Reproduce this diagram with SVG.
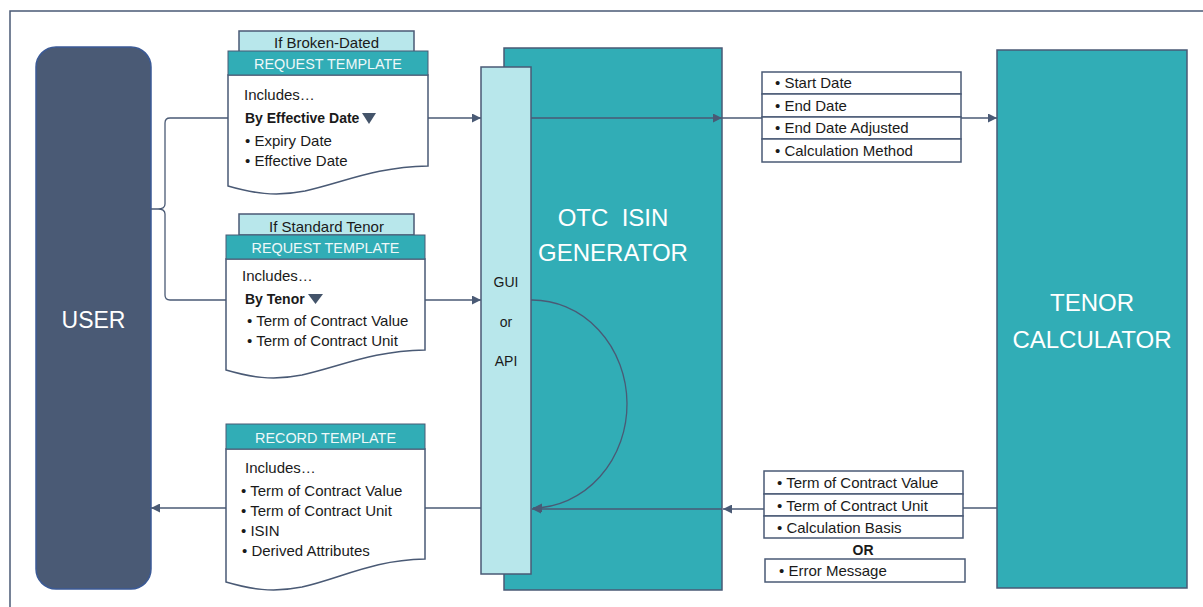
<svg xmlns="http://www.w3.org/2000/svg" width="1203" height="607" viewBox="0 0 1203 607">
<defs>
<marker id="arr" viewBox="0 0 10 10" refX="10" refY="5" markerWidth="11" markerHeight="9" markerUnits="userSpaceOnUse" orient="auto"><path d="M0,0 L10,5 L0,10 z" fill="#4a5a75"/></marker>
<style>
text{font-family:"Liberation Sans",Arial,sans-serif;fill:#1a1a1a;white-space:pre}
.t15{font-size:15px}
.b{font-weight:bold;font-size:14px}
.hdr{font-size:14.4px;fill:#eef8f9;text-anchor:middle}
.tab{fill:#b8e7eb;stroke:#4a5a75;stroke-width:1.5}
.head{fill:#31adb6;stroke:#4a5a75;stroke-width:1}
.doc{fill:#fff;stroke:#4a5a75;stroke-width:1.5}
.box{fill:#fff;stroke:#4a5a75;stroke-width:1.5}
.big{font-size:24px;fill:#fff;text-anchor:middle}
.line{fill:none;stroke:#4a5a75;stroke-width:1.3}
.tri{fill:#44546a}
</style>
</defs>
<rect x="10" y="11" width="1300" height="700" fill="none" stroke="#4a5a75" stroke-width="1.5"/>

<g id="user">
<rect x="36" y="47" width="115" height="542" rx="20" ry="20" fill="#4a5a75" stroke="#3b5a96" stroke-width="1.5"/>
<text x="93.5" y="328" class="big" style="font-size:23px">USER</text>
</g>

<g id="otc">
<rect x="504" y="48" width="218" height="542" fill="#31adb6" stroke="#4a5a75" stroke-width="1.5"/>
<text x="613" y="226" class="big">OTC  ISIN</text>
<text x="613" y="261" class="big">GENERATOR</text>
</g>

<g id="gui">
<rect x="481" y="67" width="50" height="507" fill="#b8e7eb" stroke="#4a5a75" stroke-width="1.5"/>
<text x="506" y="287" style="font-size:14px" text-anchor="middle">GUI</text>
<text x="506" y="327" style="font-size:14px" text-anchor="middle">or</text>
<text x="506" y="366" style="font-size:14px" text-anchor="middle">API</text>
</g>

<g id="tenor">
<rect x="997" y="50" width="190" height="538" fill="#31adb6" stroke="#4a5a75" stroke-width="1.5"/>
<text x="1092" y="311" class="big">TENOR</text>
<text x="1092" y="348" class="big">CALCULATOR</text>
</g>

<g id="connectors">
<path class="line" d="M228,118 H170 Q165,118 165,123 V204 Q165,209 158,209 H151 M158,209 Q165,209 165,214 V295 Q165,300 170,300 H226"/>
<path class="line" d="M428,118 H481" marker-end="url(#arr)"/>
<path class="line" d="M425,300 H481" marker-end="url(#arr)"/>
<path class="line" d="M531,118 H722" marker-end="url(#arr)"/>
<path class="line" d="M722,118 H997" marker-end="url(#arr)"/>
<path class="line" d="M997,508 H963"/>
<path class="line" d="M764,509 H723" marker-end="url(#arr)"/>
<path class="line" d="M722,509 H532" marker-end="url(#arr)"/>
<path class="line" d="M531,300 A95,104 0 0 1 533,508" marker-end="url(#arr)"/>
<path class="line" d="M481,508 H425"/>
<path class="line" d="M226,508 H151" marker-end="url(#arr)"/>
</g>

<g id="template-broken">
<rect class="tab" x="239" y="31" width="175" height="22"/>
<text x="326.5" y="48" class="t15" text-anchor="middle">If Broken-Dated</text>
<path class="doc" d="M228,75 H428 V166 C375,167 345,182 305,191 C275,197 252,193 228,186 Z"/>
<rect class="head" x="228" y="51" width="200" height="24"/>
<text x="328" y="69" class="hdr">REQUEST TEMPLATE</text>
<text x="244" y="100" class="t15">Includes…</text>
<text x="245" y="123" class="b">By Effective Date</text>
<polygon class="tri" points="362,113 376,113 369,124"/>
<text x="245" y="146" class="t15">• Expiry Date</text>
<text x="245" y="166" class="t15">• Effective Date</text>
</g>

<g id="template-tenor">
<rect class="tab" x="239" y="214" width="175" height="21"/>
<text x="326.5" y="232" class="t15" text-anchor="middle">If Standard Tenor</text>
<path class="doc" d="M226,259 H425 V350 C372,351 342,366 302,375 C272,381 250,377 226,370 Z"/>
<rect class="head" x="226" y="235" width="199" height="24"/>
<text x="325.5" y="253" class="hdr">REQUEST TEMPLATE</text>
<text x="242" y="281" class="t15">Includes…</text>
<text x="245" y="304" class="b">By Tenor</text>
<polygon class="tri" points="308,294 323,294 315.5,304"/>
<text x="247" y="326" class="t15">• Term of Contract Value</text>
<text x="247" y="346" class="t15">• Term of Contract Unit</text>
</g>

<g id="record-template">
<path class="doc" d="M226,449 H425 V559 C372,560 342,578 302,587 C272,593 250,589 226,582 Z"/>
<rect class="head" x="226" y="424" width="199" height="25"/>
<text x="325.5" y="443" class="hdr">RECORD TEMPLATE</text>
<text x="245" y="473" class="t15">Includes…</text>
<text x="241" y="496" class="t15">• Term of Contract Value</text>
<text x="241" y="516" class="t15">• Term of Contract Unit</text>
<text x="241" y="536" class="t15">• ISIN</text>
<text x="242" y="556" class="t15">• Derived Attributes</text>
</g>

<g id="request-fields">
<rect class="box" x="762" y="72" width="199" height="22"/>
<rect class="box" x="762" y="94" width="199" height="23"/>
<rect class="box" x="762" y="117" width="199" height="22"/>
<rect class="box" x="762" y="139" width="199" height="23"/>
<text x="775" y="88" class="t15">• Start Date</text>
<text x="775" y="111" class="t15">• End Date</text>
<text x="775" y="133" class="t15">• End Date Adjusted</text>
<text x="775" y="156" class="t15">• Calculation Method</text>
</g>

<g id="response-fields">
<rect class="box" x="764" y="471" width="199" height="23"/>
<rect class="box" x="764" y="494" width="199" height="22"/>
<rect class="box" x="764" y="516" width="199" height="22"/>
<text x="777" y="488" class="t15">• Term of Contract Value</text>
<text x="777" y="511" class="t15">• Term of Contract Unit</text>
<text x="777" y="533" class="t15">• Calculation Basis</text>
<text x="863" y="555" class="b" text-anchor="middle">OR</text>
<rect class="box" x="765" y="559" width="200" height="23"/>
<text x="779" y="576" class="t15">• Error Message</text>
</g>
</svg>
